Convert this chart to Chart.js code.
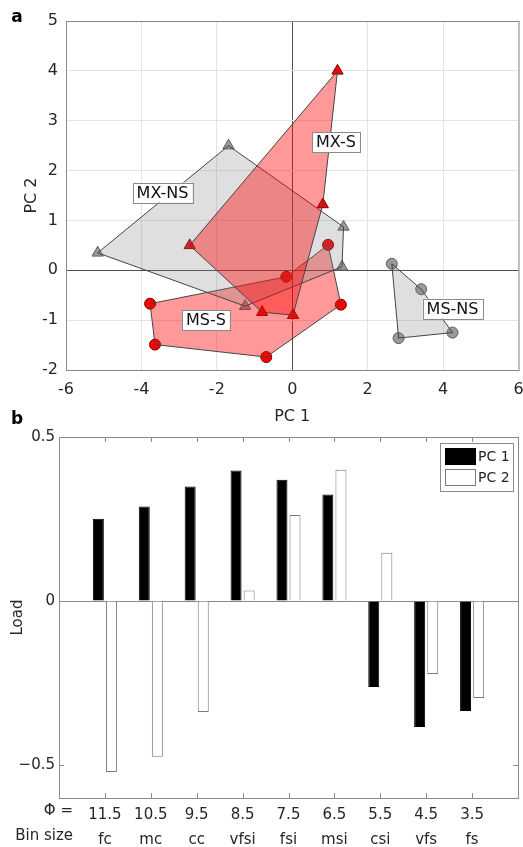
<!DOCTYPE html>
<html>
<head>
<meta charset="utf-8">
<script src="https://cdn.jsdelivr.net/npm/chart.js@4.4.0/dist/chart.umd.min.js"></script>
<style>
  html, body { margin: 0; background: #fff; overflow: hidden; }
  #wrap { position: relative; width: 523px; height: 847px; overflow: hidden; }
  canvas { position: absolute; left: 0; }
  #pca { top: 0; }
  #load { top: 405px; }
</style>
</head>
<body>
<div id="wrap">
  <canvas id="pca" width="526" height="430"></canvas>
  <canvas id="load" width="523" height="442"></canvas>
</div>
<script>
// panel a - hull vertices of each group (PC 1, PC 2)
const mxsX = [1.2, 0.81, 0.02, -0.8, -2.72];
const mxsY = [4.0, 1.32, -0.9, -0.84, 0.5];
const mxnsX = [-1.69, 1.36, 1.32, -1.25, -5.16];
const mxnsY = [2.5, 0.87, 0.07, -0.72, 0.35];
const mssX = [-3.77, -3.64, -0.69, 1.29, 0.95, -0.16];
const mssY = [-0.67, -1.49, -1.74, -0.69, 0.51, -0.13];
const msnsX = [2.64, 3.42, 4.25, 2.82];
const msnsY = [0.13, -0.38, -1.25, -1.36];
const groupNames = ['MX-S', 'MX-NS', 'MS-S', 'MS-NS'];
const labelX = [1.16, -3.44, -2.29, 4.25];
const labelY = [2.57, 1.56, -1.0, -0.77];

// panel b - loadings per bin
const phi = ['11.5', '10.5', '9.5', '8.5', '7.5', '6.5', '5.5', '4.5', '3.5'];
const binSize = ['fc', 'mc', 'cc', 'vfsi', 'fsi', 'msi', 'csi', 'vfs', 'fs'];
const pc1Load = [0.251, 0.288, 0.349, 0.398, 0.370, 0.325, -0.262, -0.384, -0.335];
const pc2Load = [-0.521, -0.474, -0.338, 0.032, 0.262, 0.400, 0.147, -0.222, -0.295];

const FONT = 'DejaVu Sans';
const TXT = '#262626';
const FRAME = '#8a8a8a';

function pts(xs, ys, close) {
  const p = xs.map((x, i) => ({ x: x, y: ys[i] }));
  if (close) p.push(p[0]);
  return p;
}

const RED = 'rgba(255,0,0,0.4)';
const GREY = 'rgba(128,128,128,0.25)';

function hull(xs, ys, fillCol) {
  return {
    data: pts(xs, ys, true), showLine: true, fill: 'shape', tension: 0,
    backgroundColor: fillCol, borderColor: '#444', borderWidth: 1,
    pointRadius: 0, order: 1
  };
}
function marks(xs, ys, style, red) {
  return {
    data: pts(xs, ys, false), showLine: false,
    pointStyle: style, pointRadius: style === 'triangle' ? 6.5 : 5.5,
    backgroundColor: red ? '#ff0000' : '#9a9a9a',
    borderColor: red ? '#7a0000' : '#5c5c5c', borderWidth: 1, order: 2
  };
}

// keep the plot box where the figure has it
function pinX(right) {
  return s => { s.paddingLeft = 0; s.paddingRight = right; };
}

const frameA = {
  id: 'frameA',
  afterDatasetsDraw(chart) {
    const { ctx, chartArea: a, scales } = chart;
    ctx.save();
    ctx.strokeStyle = FRAME;
    ctx.lineWidth = 1;
    ctx.strokeRect(a.left + 0.5, a.top + 0.5, a.right - a.left, a.bottom - a.top);
    ctx.font = '16px ' + FONT;
    ctx.textAlign = 'center';
    ctx.textBaseline = 'middle';
    groupNames.forEach((name, i) => {
      const px = scales.x.getPixelForValue(labelX[i]);
      const py = scales.y.getPixelForValue(labelY[i]);
      const w = ctx.measureText(name).width + 8;
      const h = 20;
      ctx.fillStyle = '#fff';
      ctx.fillRect(px - w / 2, py - h / 2, w, h);
      ctx.strokeStyle = FRAME;
      ctx.strokeRect(Math.round(px - w / 2) + 0.5, Math.round(py - h / 2) + 0.5, Math.round(w), h);
      ctx.fillStyle = '#111';
      ctx.fillText(name, px, py + 1);
    });
    ctx.font = 'bold 17px ' + FONT;
    ctx.fillStyle = '#000';
    ctx.fillText('a', 17, 18);
    ctx.restore();
  }
};

new Chart(document.getElementById('pca'), {
  type: 'scatter',
  data: {
    datasets: [
      hull(mxsX, mxsY, RED),
      hull(mxnsX, mxnsY, GREY),
      hull(mssX, mssY, RED),
      hull(msnsX, msnsY, GREY),
      marks(mxsX, mxsY, 'triangle', true),
      marks(mxnsX, mxnsY, 'triangle', false),
      marks(mssX, mssY, 'circle', true),
      marks(msnsX, msnsY, 'circle', false)
    ]
  },
  options: {
    responsive: false,
    animation: false,
    events: [],
    layout: { padding: { top: 21, right: 1, left: 0, bottom: 0 } },
    plugins: { legend: { display: false }, tooltip: { enabled: false } },
    scales: {
      x: {
        type: 'linear', min: -6, max: 6,
        afterFit(s) { s.height = 60; pinX(1)(s); },
        ticks: { stepSize: 2, padding: 10, color: TXT, font: { family: FONT, size: 16 } },
        grid: {
          drawTicks: false,
          color: c => c.tick.value === 0 ? '#505050' : '#e3e3e3'
        },
        border: { display: false },
        title: { display: true, text: 'PC 1', color: TXT, font: { family: FONT, size: 16 }, padding: { bottom: 4 } }
      },
      y: {
        type: 'linear', min: -2, max: 5,
        afterFit(s) { s.width = 66; },
        ticks: { stepSize: 1, padding: 8, color: TXT, font: { family: FONT, size: 16 } },
        grid: {
          drawTicks: false,
          color: c => c.tick.value === 0 ? '#505050' : '#e3e3e3'
        },
        border: { display: false },
        title: { display: true, text: 'PC 2', color: TXT, font: { family: FONT, size: 16 }, padding: { top: 22 } }
      }
    }
  },
  plugins: [frameA]
});

// panel b
const frameB = {
  id: 'frameB',
  afterDraw(chart) {
    const { ctx, chartArea: a, scales } = chart;
    ctx.save();
    ctx.strokeStyle = FRAME;
    ctx.lineWidth = 1;
    ctx.strokeRect(a.left + 0.5, a.top + 0.5, a.right - a.left, a.bottom - a.top);
    ctx.beginPath();
    scales.x.ticks.forEach(t => {
      const px = Math.round(scales.x.getPixelForValue(t.value)) + 0.5;
      ctx.moveTo(px, a.top); ctx.lineTo(px, a.top + 5);
      ctx.moveTo(px, a.bottom); ctx.lineTo(px, a.bottom - 5);
    });
    scales.y.ticks.forEach(t => {
      const py = Math.round(scales.y.getPixelForValue(t.value)) + 0.5;
      ctx.moveTo(a.left, py); ctx.lineTo(a.left + 5, py);
      ctx.moveTo(a.right, py); ctx.lineTo(a.right - 5, py);
    });
    ctx.stroke();

    // row captions under the tick labels
    ctx.font = '15px ' + FONT;
    ctx.fillStyle = TXT;
    ctx.textAlign = 'right';
    ctx.textBaseline = 'middle';
    ctx.fillText('\u03A6 =', 73, a.bottom + 13);
    ctx.fillText('Bin size', 73, a.bottom + 38);

    // legend
    const lx = a.right - 78, ly = a.top + 6, lw = 73, lh = 48;
    ctx.fillStyle = '#fff';
    ctx.fillRect(lx, ly, lw, lh);
    ctx.strokeStyle = FRAME;
    ctx.strokeRect(lx + 0.5, ly + 0.5, lw, lh);
    chart.data.datasets.forEach((ds, i) => {
      const sy = ly + 5 + i * 21;
      ctx.fillStyle = ds.backgroundColor;
      ctx.fillRect(lx + 5, sy, 30, 16);
      ctx.strokeStyle = ds.borderColor;
      ctx.strokeRect(lx + 5.5, sy + 0.5, 30, 16);
      ctx.fillStyle = TXT;
      ctx.textAlign = 'left';
      ctx.font = '14px ' + FONT;
      ctx.fillText(ds.label, lx + 38, sy + 9);
    });

    ctx.font = 'bold 17px ' + FONT;
    ctx.fillStyle = '#000';
    ctx.textAlign = 'center';
    ctx.fillText('b', 17, 15);
    ctx.restore();
  }
};

new Chart(document.getElementById('load'), {
  type: 'bar',
  data: {
    datasets: [
      {
        label: 'PC 1',
        data: pc1Load.map((v, i) => ({ x: i + 1, y: v })),
        backgroundColor: '#000000', borderColor: '#000000', borderWidth: 1,
        categoryPercentage: 0.57, barPercentage: 0.84
      },
      {
        label: 'PC 2',
        data: pc2Load.map((v, i) => ({ x: i + 1, y: v })),
        backgroundColor: '#ffffff', borderColor: '#7a7a7a', borderWidth: 1,
        categoryPercentage: 0.57, barPercentage: 0.84
      }
    ]
  },
  options: {
    responsive: false,
    animation: false,
    events: [],
    layout: { padding: { top: 32, right: 5, left: 0, bottom: 0 } },
    plugins: { legend: { display: false }, tooltip: { enabled: false } },
    scales: {
      x: {
        type: 'linear', min: 0, max: 10, offset: false,
        afterFit(s) { s.height = 49; pinX(5)(s); },
        afterBuildTicks(s) { s.ticks = phi.map((p, i) => ({ value: i + 1 })); },
        ticks: {
          autoSkip: false, maxRotation: 0, padding: 5, color: TXT,
          font: { family: FONT, size: 15, lineHeight: 1.65 },
          callback: (v) => [phi[v - 1], binSize[v - 1]]
        },
        grid: { display: false, drawTicks: false },
        border: { display: false }
      },
      y: {
        min: -0.6, max: 0.5,
        afterFit(s) { s.width = 59; },
        afterBuildTicks(s) { s.ticks = [-0.5, 0, 0.5].map(v => ({ value: v })); },
        ticks: {
          padding: 4, color: TXT, font: { family: FONT, size: 15 },
          callback: v => String(v).replace('-', '\u2212')
        },
        grid: {
          drawTicks: false,
          color: c => c.tick.value === 0 ? '#8a8a8a' : 'rgba(0,0,0,0)'
        },
        border: { display: false },
        title: { display: true, text: 'Load', color: TXT, font: { family: FONT, size: 15 }, padding: { top: 9 } }
      }
    }
  },
  plugins: [frameB]
});
</script>
</body>
</html>
